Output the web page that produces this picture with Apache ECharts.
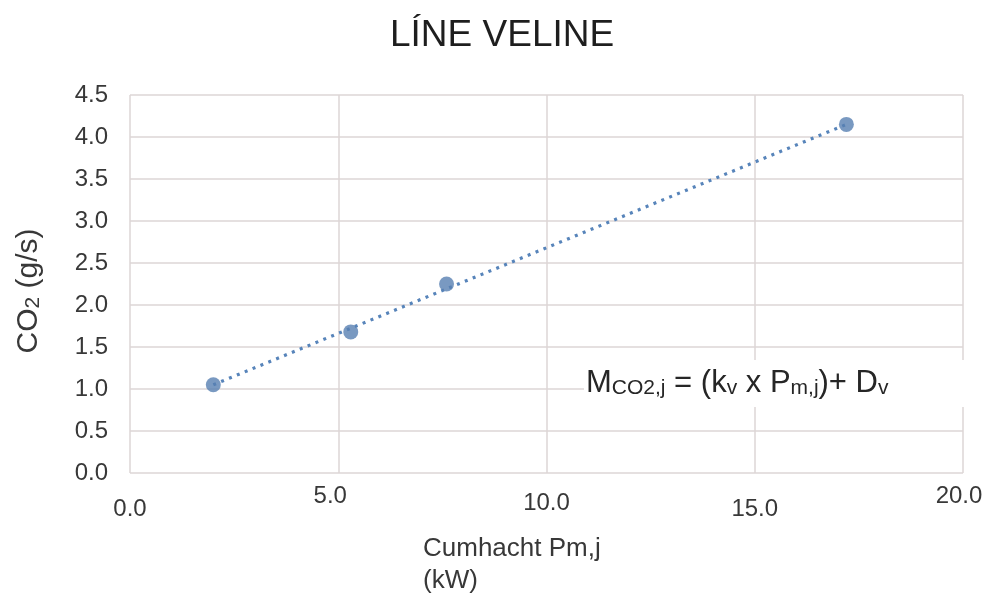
<!DOCTYPE html>
<html>
<head>
<meta charset="utf-8">
<script src="https://cdn.jsdelivr.net/npm/echarts@6/dist/echarts.min.js"></script>
<style>
  html, body { margin: 0; padding: 0; background: #fff; }
  #chart { width: 989px; height: 601px; }
</style>
</head>
<body>
<div id="chart"></div>
<script>
// Measured points: engine power (kW) against CO2 mass flow (g/s)
const powerKW = [2.0, 5.3, 7.6, 17.2];
const co2GS = [1.05, 1.68, 2.25, 4.15];

// Linear trendline end points
const trendX = [2.0, 17.2];
const trendY = [1.05, 4.15];

// Axis tick values
const xTicks = [0, 5, 10, 15, 20];
const yTicks = [0, 0.5, 1, 1.5, 2, 2.5, 3, 3.5, 4, 4.5];

// Rich style key for each x tick label (labels sit at uneven heights)
const xLabelStyle = ['lo', 'hiL', 'mid', 'lo', 'hi'];

const FONT = '"Liberation Sans", Arial, sans-serif';
const TEXT = '#383838';
const GRID = '#dcd6d6';
const BLUE = '#5880b2';

const chart = echarts.init(document.getElementById('chart'), null, { renderer: 'canvas' });

const tickFont = { fontFamily: FONT, fontSize: 24, color: TEXT };

chart.setOption({
  backgroundColor: '#fff',
  animation: false,
  textStyle: { fontFamily: FONT },
  title: [
    {
      text: 'LÍNE VELINE',
      left: 385,
      top: 12,
      textStyle: { fontFamily: FONT, fontSize: 37, fontWeight: 'normal', color: '#1e1e1e' }
    },
    {
      text: 'Cumhacht Pm,j\n(kW)',
      left: 423,
      top: 533,
      padding: 0,
      textStyle: { fontFamily: FONT, fontSize: 26, fontWeight: 'normal', color: TEXT, lineHeight: 32 }
    },
    {
      // Equation box sits over the grid with a white background
      text: '{b|M}{s|CO2,j}{b| = (k}{s|v}{b| x P}{s|m,j}{b|)+ D}{s|v}',
      left: 584,
      top: 358,
      padding: [8, 80, 8, 2],
      backgroundColor: '#fff',
      textStyle: {
        fontWeight: 'normal',
        rich: {
          b: { fontFamily: FONT, fontSize: 31, fontWeight: 'normal', color: '#262626', lineHeight: 33, verticalAlign: 'bottom' },
          s: { fontFamily: FONT, fontSize: 21, fontWeight: 'normal', color: '#262626', lineHeight: 28, verticalAlign: 'bottom' }
        }
      }
    }
  ],
  grid: { left: 130, right: 26, top: 95, bottom: 128, containLabel: false },
  xAxis: {
    type: 'value',
    min: xTicks[0],
    max: xTicks[xTicks.length - 1],
    interval: 5,
    axisLine: { show: false },
    axisTick: { show: false },
    splitLine: { show: true, lineStyle: { color: GRID, width: 1.5 } },
    axisLabel: {
      margin: 11,
      formatter: function (v) {
        const i = xTicks.indexOf(v);
        const key = i >= 0 ? xLabelStyle[i] : 'lo';
        return '{' + key + '|' + v.toFixed(1) + '}';
      },
      rich: {
        hi: Object.assign({ padding: [0, 8, 0, 0] }, tickFont),
        hiL: Object.assign({ padding: [0, 16, 0, 0] }, tickFont),
        mid: Object.assign({ padding: [7, 0, 0, 0] }, tickFont),
        lo: Object.assign({ padding: [13, 0, 0, 0] }, tickFont)
      }
    }
  },
  yAxis: {
    type: 'value',
    min: yTicks[0],
    max: yTicks[yTicks.length - 1],
    interval: 0.5,
    axisLine: { show: false },
    axisTick: { show: false },
    splitLine: { show: true, lineStyle: { color: GRID, width: 1.5 } },
    axisLabel: Object.assign({
      margin: 22,
      formatter: function (v) { return v.toFixed(1); }
    }, tickFont),
    name: '{b|CO}{s|2}{b| (g/s)}',
    nameLocation: 'middle',
    nameRotate: 90,
    nameGap: 86,
    nameTextStyle: {
      padding: [0, 14, 0, 0],
      rich: {
        b: { fontFamily: FONT, fontSize: 30, color: TEXT, verticalAlign: 'bottom', lineHeight: 32 },
        s: { fontFamily: FONT, fontSize: 21, color: TEXT, verticalAlign: 'bottom', lineHeight: 27 }
      }
    }
  },
  series: [
    {
      name: 'Trendline',
      type: 'line',
      data: trendX.map((x, i) => [x, trendY[i]]),
      symbol: 'none',
      silent: true,
      z: 2,
      lineStyle: { color: '#5784ba', width: 3.2, type: [3, 5.5] }
    },
    {
      name: 'CO2',
      type: 'scatter',
      data: powerKW.map((x, i) => [x, co2GS[i]]),
      symbol: 'circle',
      symbolSize: 15,
      z: 3,
      itemStyle: { color: BLUE }
    }
  ]
});
</script>
</body>
</html>
